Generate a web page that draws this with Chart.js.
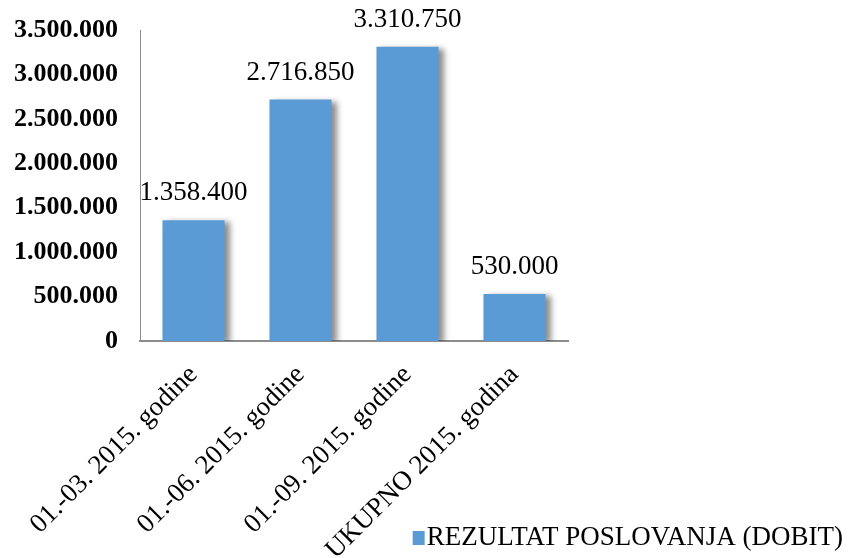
<!DOCTYPE html>
<html>
<head>
<meta charset="utf-8">
<script src="https://cdn.jsdelivr.net/npm/chart.js@4.4.0/dist/chart.umd.min.js"></script>
<style>
	html, body { margin: 0; padding: 0; background: #fff; }
	#wrap { width: 849px; height: 558px; }
</style>
</head>
<body>
<div id="wrap"><canvas id="myChart"></canvas></div>
<script>
const categories = [
	"01.-03. 2015. godine",
	"01.-06. 2015. godine",
	"01.-09. 2015. godine",
	"UKUPNO 2015. godina",
];
const values = [1358400, 2716850, 3310750, 530000];
const seriesName = "REZULTAT POSLOVANJA (DOBIT)";
const yMax = 3500000;
const yStep = 500000;

const serif = "'Liberation Serif', 'DejaVu Serif', serif";

function dots(v) {
	return String(Math.round(v)).replace(/\B(?=(\d{3})+(?!\d))/g, ".");
}

// soft grey shadow on the right of each bar
const barShadow = {
	id: "barShadow",
	beforeDatasetsDraw(chart) {
		const ctx = chart.ctx;
		ctx.save();
		ctx.shadowColor = "rgba(0,0,0,0.45)";
		ctx.shadowBlur = 6;
		ctx.shadowOffsetX = 5;
		ctx.shadowOffsetY = 2;
	},
	afterDatasetsDraw(chart) {
		chart.ctx.restore();
	},
};

// value labels above bars
const valueLabels = {
	id: "valueLabels",
	afterDatasetsDraw(chart) {
		const ctx = chart.ctx;
		const meta = chart.getDatasetMeta(0);
		ctx.save();
		ctx.font = "27px " + serif;
		ctx.fillStyle = "#000";
		ctx.textAlign = "center";
		ctx.textBaseline = "middle";
		meta.data.forEach((bar, i) => {
			ctx.fillText(dots(values[i]), bar.x, bar.y - 27);
		});
		ctx.restore();
	},
};

// legend in the bottom right corner, over the tick label area
const cornerLegend = {
	id: "cornerLegend",
	afterDraw(chart) {
		const ctx = chart.ctx;
		const ds = chart.data.datasets[0];
		ctx.save();
		ctx.font = "27px " + serif;
		ctx.textBaseline = "middle";
		ctx.textAlign = "right";
		const right = chart.width - 6;
		const cy = 538;
		const w = ctx.measureText(ds.label).width;
		ctx.fillStyle = "#000";
		ctx.fillText(ds.label, right, cy);
		ctx.fillStyle = ds.backgroundColor;
		ctx.fillRect(right - w - 14, cy - 7, 12, 14);
		ctx.restore();
	},
};

const ctx = document.getElementById("myChart");

new Chart(ctx, {
	type: "bar",
	data: {
		labels: categories,
		datasets: [
			{
				label: seriesName,
				data: values,
				backgroundColor: "#5B9BD5",
				borderWidth: 0,
				barPercentage: 0.58,
				categoryPercentage: 1,
			},
		],
	},
	options: {
		responsive: true,
		maintainAspectRatio: false,
		animation: false,
		layout: {
			padding: { top: 30, left: 0, right: 0, bottom: 0 },
		},
		scales: {
			x: {
				grid: { display: false },
				border: { color: "#8c8c8c", width: 2 },
				ticks: {
					color: "#000",
					font: { family: serif, size: 27 },
					maxRotation: 45,
					minRotation: 45,
					padding: 10,
				},
				afterFit: (s) => {
					s.height = 217;
				},
			},
			y: {
				min: 0,
				max: yMax,
				grid: { display: false },
				border: { color: "#8c8c8c", width: 1 },
				ticks: {
					stepSize: yStep,
					color: "#000",
					padding: 14,
					font: { family: serif, size: 26, weight: "bold" },
					callback: (v) => dots(v),
				},
				afterFit: (s) => {
					s.width = 140;
				},
			},
			right: {
				position: "right",
				grid: { display: false },
				border: { display: false },
				ticks: { display: false },
				afterFit: (s) => {
					s.width = 281;
				},
			},
		},
		plugins: {
			legend: { display: false },
			tooltip: { enabled: false },
		},
	},
	plugins: [barShadow, valueLabels, cornerLegend],
});
</script>
</body>
</html>
